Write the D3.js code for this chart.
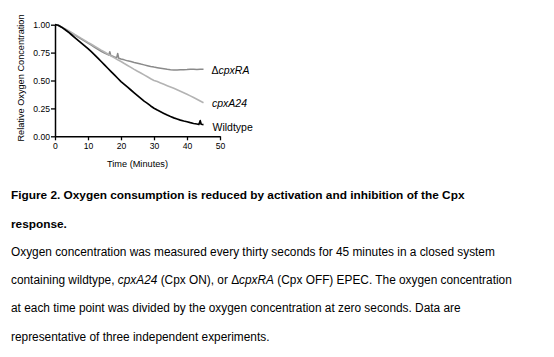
<!DOCTYPE html>
<html>
<head>
<meta charset="utf-8">
<script src="https://cdn.jsdelivr.net/npm/d3@7"></script>
<style>
  html, body { margin: 0; padding: 0; background: #fff; }
  svg { display: block; font-family: "Liberation Sans", Arial, Helvetica, sans-serif; }
</style>
</head>
<body>
<svg id="chart" width="554" height="357"></svg>
<script>
// ---------- DATA ----------
const xTicks = [0, 10, 20, 30, 40, 50];
const yTicks = [0, 0.25, 0.5, 0.75, 1.0];
const xTitle = "Time (Minutes)";
const yTitle = "Relative Oxygen Concentration";

// [minutes, relative O2]
const wildtype = [
  [0,1.0],[1,0.995],[2,0.978],[3,0.957],[4,0.935],[5,0.91],[6,0.885],[7,0.86],[8,0.835],
  [9,0.81],[10,0.785],[11,0.758],[12,0.73],[13,0.70],[14,0.67],[15,0.64],[16,0.61],
  [17,0.58],[18,0.55],[19,0.52],[20,0.49],[21,0.465],[22,0.44],[23,0.415],[24,0.39],
  [25,0.365],[26,0.34],[27,0.315],[28,0.295],[29,0.272],[30,0.252],[31,0.235],[32,0.22],
  [33,0.205],[34,0.19],[35,0.177],[36,0.165],[37,0.155],[38,0.145],[39,0.137],[40,0.13],
  [41,0.122],[42,0.115],[43,0.11],[43.6,0.106],[44,0.14],[44.3,0.108],[45,0.105]
];
const cpxA24 = [
  [0,1.0],[1,0.995],[2,0.98],[3,0.965],[4,0.948],[5,0.93],[6,0.912],[7,0.895],[8,0.877],
  [9,0.86],[10,0.842],[11,0.825],[12,0.807],[13,0.79],[14,0.772],[15,0.755],[16,0.738],
  [17,0.72],[18,0.703],[19,0.686],[20,0.67],[21,0.652],[22,0.635],[23,0.618],[24,0.60],
  [25,0.583],[26,0.567],[27,0.55],[28,0.533],[29,0.516],[30,0.50],[31,0.49],[32,0.478],
  [33,0.466],[34,0.454],[35,0.442],[36,0.43],[37,0.417],[38,0.404],[39,0.39],[40,0.376],
  [41,0.362],[42,0.347],[43,0.332],[44,0.316],[45,0.30]
];
const cpxRA = [
  [0,1.0],[1,0.993],[2,0.977],[3,0.96],[4,0.942],[5,0.924],[6,0.906],[7,0.888],[8,0.87],
  [9,0.852],[10,0.834],[11,0.816],[12,0.798],[13,0.78],[14,0.762],[15,0.745],[16,0.732],
  [16.3,0.728],[16.6,0.757],[16.9,0.724],[17.5,0.718],[18,0.712],[18.7,0.705],[19,0.742],
  [19.3,0.70],[20,0.692],[21,0.685],[22,0.676],[23,0.67],[24,0.662],[25,0.655],[26,0.647],
  [27,0.64],[28,0.633],[29,0.626],[30,0.62],[31,0.615],[32,0.61],[33,0.605],[34,0.60],
  [35,0.597],[36,0.595],[37,0.595],[38,0.596],[39,0.597],[40,0.598],[41,0.6],[42,0.6],
  [43,0.599],[44,0.6],[45,0.6]
];

const seriesNames = ["cpxRA", "cpxA24", "Wildtype"];

// ---------- CHART ----------
const svg = d3.select("#chart");
svg.append("rect").attr("width", 554).attr("height", 357).attr("fill", "#fff");

const x = d3.scaleLinear().domain([0, 50]).range([55, 220]);
const y = d3.scaleLinear().domain([0, 1]).range([136.3, 24.7]);

const line = d3.line().x(d => x(d[0])).y(d => y(d[1]));

const series = [
  { data: cpxRA, color: "#8a8a8a", width: 1.5 },
  { data: cpxA24, color: "#b3b3b3", width: 1.6 },
  { data: wildtype, color: "#000", width: 1.7 }
];

svg.append("g").selectAll("path").data(series).join("path")
  .attr("d", d => line(d.data))
  .attr("fill", "none")
  .attr("stroke", d => d.color)
  .attr("stroke-width", d => d.width)
  .attr("stroke-linejoin", "round");

// axes
const xAxis = svg.append("g").attr("transform", `translate(0,${y(0)})`)
  .call(d3.axisBottom(x).tickValues(xTicks).tickSize(4).tickSizeOuter(0).tickFormat(d3.format("d")));
const yAxis = svg.append("g").attr("transform", `translate(${x(0)},0)`)
  .call(d3.axisLeft(y).tickValues(yTicks).tickSize(4).tickSizeOuter(0).tickFormat(d3.format(".2f")));

[xAxis, yAxis].forEach(g => {
  g.select(".domain").attr("stroke", "#000").attr("stroke-width", 1.5);
  g.selectAll(".tick line").attr("stroke", "#000").attr("stroke-width", 1.3);
  g.selectAll(".tick text").attr("fill", "#000").attr("font-size", 8.6)
    .attr("font-family", '"Liberation Sans", Arial, sans-serif');
});
xAxis.selectAll(".tick text").attr("dy", "0.95em").attr("y", 5);
yAxis.selectAll(".tick text").attr("x", -5);

// axis titles
svg.append("text").attr("x", x(25)).attr("y", 166.5)
  .attr("text-anchor", "middle").attr("font-size", 9.2).text(xTitle);
svg.append("text")
  .attr("transform", `translate(24,78) rotate(-90)`)
  .attr("text-anchor", "middle").attr("font-size", 9.2).text(yTitle);

// series labels
const lab1 = svg.append("text").attr("x", 211.5).attr("y", 74).attr("font-size", 10.5);
lab1.append("tspan").text("Δ");
lab1.append("tspan").attr("font-style", "italic").text(seriesNames[0]);
svg.append("text").attr("x", 212).attr("y", 107).attr("font-size", 10.5)
  .attr("font-style", "italic").text(seriesNames[1]);
svg.append("text").attr("x", 212.5).attr("y", 130.5).attr("font-size", 10.5)
  .text(seriesNames[2]);

// ---------- CAPTION ----------
const captionLines = [
  { bold: true, parts: [["Figure 2. Oxygen consumption is reduced by activation and inhibition of the Cpx", false]] },
  { bold: true, parts: [["response.", false]] },
  { bold: false, parts: [["Oxygen concentration was measured every thirty seconds for 45 minutes in a closed system", false]] },
  { bold: false, parts: [["containing wildtype, ", false], ["cpxA24", true], [" (Cpx ON), or Δ", false], ["cpxRA", true], [" (Cpx OFF) EPEC. The oxygen concentration", false]] },
  { bold: false, parts: [["at each time point was divided by the oxygen concentration at zero seconds. Data are", false]] },
  { bold: false, parts: [["representative of three independent experiments.", false]] }
];
const baselines = [199.3, 228, 256, 284.3, 312.3, 340.5];

const capTexts = captionLines.map((ln, i) => {
  const t = svg.append("text").attr("x", 11).attr("y", baselines[i])
    .attr("font-size", 11).attr("font-weight", ln.bold ? "bold" : "normal").attr("fill", "#000");
  ln.parts.forEach(p => t.append("tspan").attr("font-style", p[1] ? "italic" : "normal").text(p[0]));
  return t;
});
// fit font sizes to the reference line widths
const boldW = capTexts[0].node().getComputedTextLength();
const boldSize = 11 * 454 / boldW;
capTexts[0].attr("font-size", boldSize);
capTexts[1].attr("font-size", boldSize);
const normW = capTexts[3].node().getComputedTextLength();
const normSize = 11 * 501 / normW;
[2, 3, 4, 5].forEach(i => capTexts[i].attr("font-size", normSize));
</script>
</body>
</html>
